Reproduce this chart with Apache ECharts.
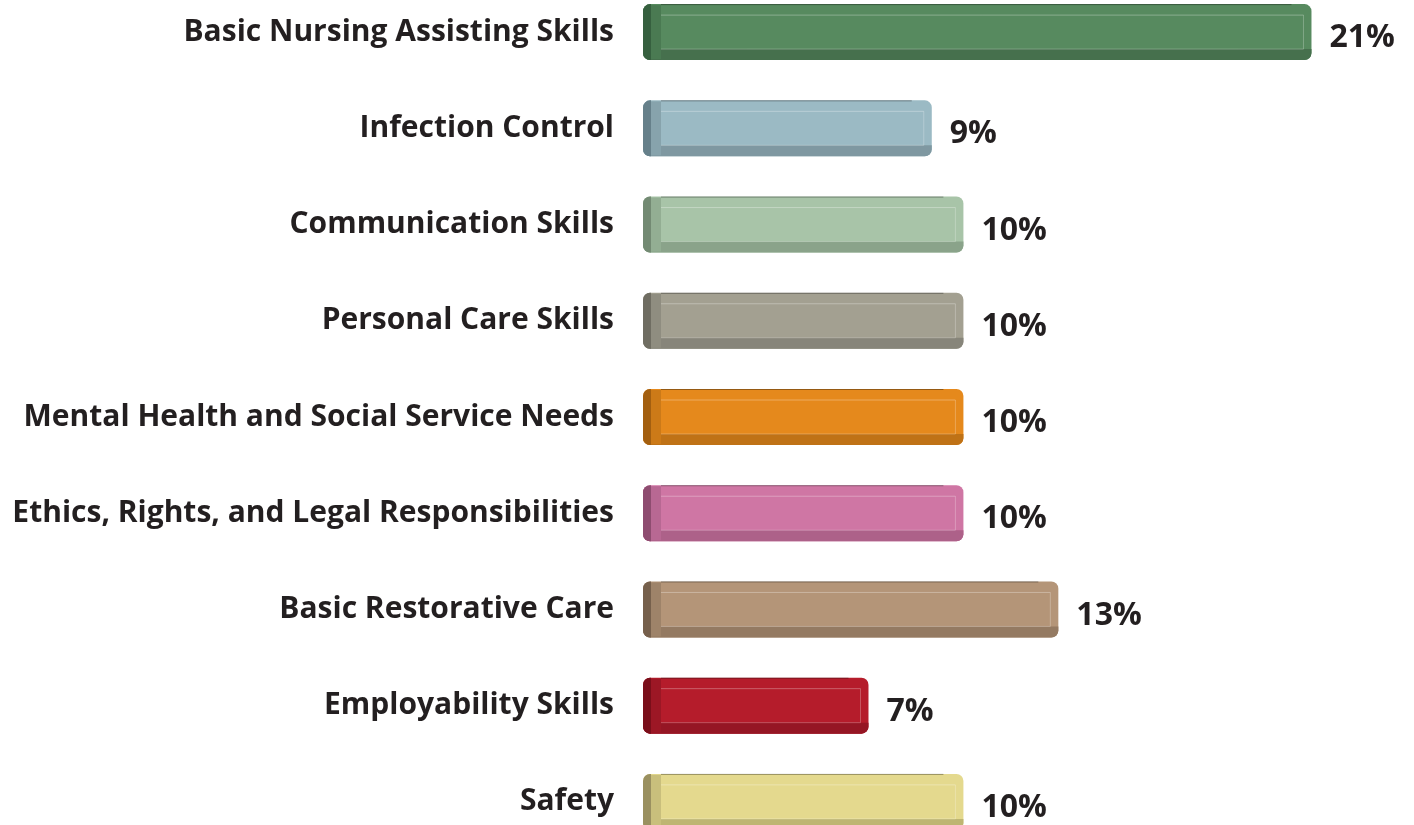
<!DOCTYPE html>
<html>
<head>
<meta charset="utf-8">
<script src="https://cdn.jsdelivr.net/npm/echarts@6/dist/echarts.min.js"></script>
<style>
  html, body { margin: 0; padding: 0; background: #fff; overflow: hidden; }
  #chart { position: relative; top: -16px; width: 1414px; height: 866px; }
</style>
</head>
<body>
<div id="chart"></div>
<script>
const categories = [
  "Basic Nursing Assisting Skills",
  "Infection Control",
  "Communication Skills",
  "Personal Care Skills",
  "Mental Health and Social Service Needs",
  "Ethics, Rights, and Legal Responsibilities",
  "Basic Restorative Care",
  "Employability Skills",
  "Safety"
];
const percents = [21, 9, 10, 10, 10, 10, 13, 7, 10];

// face / bottom / left cap / left facet
const faceColors = ["#578a5f", "#9bbac4", "#a8c4a8", "#a3a091", "#e5891c", "#cf76a4", "#b49578", "#b51c2b", "#e4d98e"];
const bottomColors = ["#46704d", "#7f98a1", "#8aa38a", "#87857a", "#bf7216", "#ad6189", "#947a62", "#951624", "#beb572"];
const capColors = ["#36603f", "#66808a", "#738a73", "#6f6d62", "#a35f10", "#8e4c70", "#76604c", "#7a0e1a", "#9a9060"];
const facetColors = ["#4a7a52", "#87a3ac", "#93ae93", "#8f8d80", "#cc7a18", "#b86893", "#9e8369", "#9c1725", "#c9bf7c"];

const font = "'Open Sans', 'Noto Sans', sans-serif";

const chart = echarts.init(document.getElementById("chart"));

function renderBar(params, api) {
  const idx = api.value(0);
  const val = api.value(1);
  const start = api.coord([0, idx]);
  const end = api.coord([val, idx]);
  const h = 56;
  const x0 = start[0] - 4;
  const x1 = end[0];
  const yT = start[1] - h / 2;
  const yB = start[1] + h / 2;
  const w = x1 - x0;
  const r = 7;
  const i = params.dataIndex;
  return {
    type: "group",
    children: [
      { type: "rect", shape: { x: x0, y: yT, width: w, height: h, r: r }, style: { fill: faceColors[i] } },
      { type: "rect", shape: { x: x0, y: yB - 11, width: w, height: 11, r: [0, 0, r, r] }, style: { fill: bottomColors[i] } },
      { type: "rect", shape: { x: x0 + 8, y: yT + 1, width: 10, height: h - 2 }, style: { fill: facetColors[i] } },
      { type: "rect", shape: { x: x0, y: yT, width: 8, height: h, r: [r, 0, 0, r] }, style: { fill: capColors[i] } },
      { type: "line", shape: { x1: x0 + 18, y1: yT + 11, x2: x1 - 8, y2: yT + 11 }, style: { stroke: "rgba(255,255,255,0.3)", lineWidth: 1 } },
      { type: "line", shape: { x1: x0 + 18, y1: yB - 11, x2: x1 - 8, y2: yB - 11 }, style: { stroke: "rgba(255,255,255,0.25)", lineWidth: 1 } },
      { type: "line", shape: { x1: x1 - 8, y1: yT + 11, x2: x1 - 8, y2: yB - 11 }, style: { stroke: "rgba(255,255,255,0.25)", lineWidth: 1 } },
      { type: "line", shape: { x1: x0 + 18, y1: yT + 0.5, x2: x1 - 20, y2: yT + 0.5 }, style: { stroke: "rgba(0,0,0,0.35)", lineWidth: 1 } },
      {
        type: "text",
        style: {
          x: x1 + 18, y: start[1] + 6,
          text: val + "%",
          fill: "#231f20",
          font: "bold 32px " + font,
          verticalAlign: "middle", align: "left"
        }
      }
    ]
  };
}

chart.setOption({
  animation: false,
  grid: { left: 647, width: 759.4, top: 0, bottom: 0 },
  xAxis: {
    type: "value", min: 0, max: 24,
    show: false
  },
  yAxis: {
    type: "category",
    data: categories,
    inverse: true,
    axisLine: { show: false },
    axisTick: { show: false },
    splitLine: { show: false },
    axisLabel: {
      margin: 33,
      padding: [6, 0, 0, 0],
      color: "#231f20",
      fontFamily: font,
      fontWeight: "bold",
      fontSize: 30
    }
  },
  series: [{
    type: "custom",
    renderItem: renderBar,
    encode: { x: 1, y: 0 },
    data: percents.map((v, i) => [i, v])
  }]
});
</script>
</body>
</html>
